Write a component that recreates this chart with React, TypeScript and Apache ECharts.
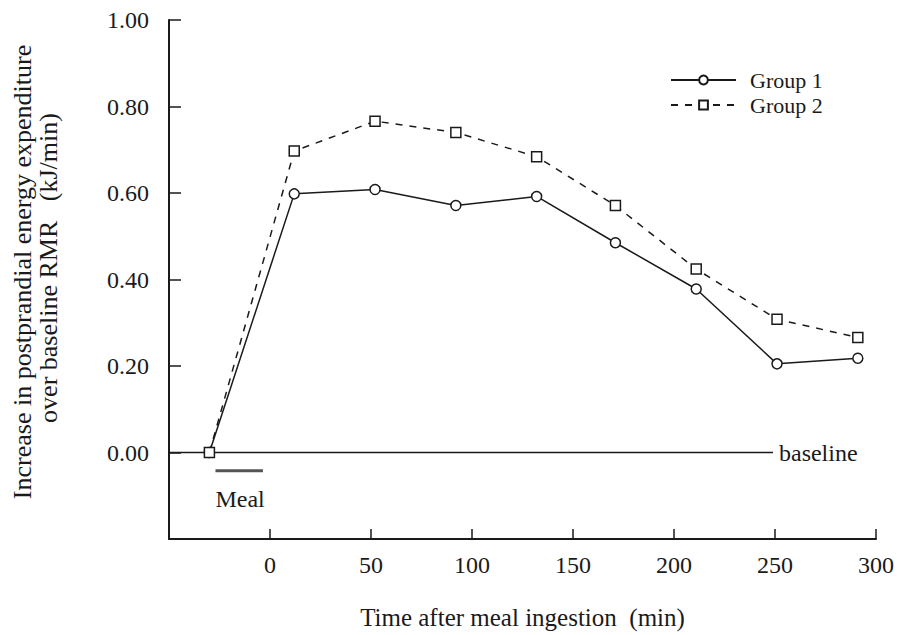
import React, { useEffect, useRef } from "react";
import * as echarts from "echarts";

const timesMin = [-30, 12, 52, 92, 132, 171, 211, 251, 291];
const group1 = [0, 0.598, 0.608, 0.571, 0.592, 0.485, 0.378, 0.205, 0.218];
const group2 = [0, 0.697, 0.766, 0.74, 0.684, 0.571, 0.424, 0.308, 0.266];
const xTicks = [0, 50, 100, 150, 200, 250, 300];
const yTicks = [0, 0.2, 0.4, 0.6, 0.8, 1.0];
const baselineX = [-50, 249];
const mealX = [-27, -3.5];
const mealY = -0.042;
const mealLabelPos = [-27, -0.08];

const FONT = "'Liberation Serif', 'Times New Roman', serif";
const INK = "#1a1a1a";

export default function App() {
  const ref = useRef<HTMLDivElement>(null);
  useEffect(() => {
    const chart = echarts.init(ref.current!, null, { renderer: "svg" });
    const pair = (xs: number[], ys: number[]) => xs.map((x, i) => [x, ys[i]]);
    const textBase = { fontFamily: FONT, color: INK };
    chart.setOption({
      animation: false,
      backgroundColor: "#ffffff",
      grid: { left: 169, right: 20, top: 20, bottom: 94, containLabel: false },
      xAxis: {
        type: "value",
        min: -50,
        max: 300,
        interval: 50,
        axisLine: { show: true, onZero: false, lineStyle: { color: INK, width: 2 } },
        axisTick: { show: true, inside: true, length: 10, customValues: xTicks, lineStyle: { color: INK, width: 1.5 } },
        axisLabel: { show: true, customValues: xTicks, margin: 14, fontSize: 24, ...textBase },
        splitLine: { show: false },
        name: "Time after meal ingestion  (min)",
        nameLocation: "middle",
        nameGap: 66,
        nameTextStyle: { fontSize: 25, ...textBase },
      },
      yAxis: {
        type: "value",
        min: -0.2,
        max: 1.0,
        interval: 0.2,
        axisLine: { show: true, onZero: false, lineStyle: { color: INK, width: 2 } },
        axisTick: { show: true, inside: true, length: 12, customValues: yTicks, lineStyle: { color: INK, width: 1.5 } },
        axisLabel: {
          show: true,
          customValues: yTicks,
          margin: 20,
          fontSize: 24,
          ...textBase,
          formatter: (v: number) => v.toFixed(2),
        },
        splitLine: { show: false },
      },
      legend: {
        show: true,
        orient: "vertical",
        left: 670,
        top: 69,
        padding: 0,
        itemWidth: 65,
        itemHeight: 11,
        itemGap: 3,
        data: ["Group 1", "Group 2"],
        textStyle: { fontSize: 22, padding: [0, 0, 0, 9], ...textBase },
      },
      series: [
        {
          name: "baseline",
          type: "line",
          data: pair(baselineX, [0, 0]),
          symbol: "none",
          silent: true,
          lineStyle: { color: INK, width: 1.5 },
          endLabel: { show: true, formatter: "baseline", distance: 6, fontSize: 24, ...textBase },
          emphasis: { disabled: true },
          z: 1,
        },
        {
          name: "meal",
          type: "line",
          data: pair(mealX, [mealY, mealY]),
          symbol: "none",
          silent: true,
          lineStyle: { color: "#555", width: 3 },
          emphasis: { disabled: true },
          z: 1,
        },
        {
          name: "Group 1",
          type: "line",
          data: pair(timesMin, group1),
          symbol: "circle",
          symbolSize: 10,
          lineStyle: { color: INK, width: 1.5, type: "solid" },
          itemStyle: { color: "#ffffff", borderColor: INK, borderWidth: 1.5 },
          emphasis: { disabled: true },
          z: 3,
        },
        {
          name: "Group 2",
          type: "line",
          data: pair(timesMin, group2),
          symbol: "rect",
          symbolSize: 10,
          lineStyle: { color: INK, width: 1.5, type: [7, 7] },
          itemStyle: { color: "#ffffff", borderColor: INK, borderWidth: 1.5 },
          emphasis: { disabled: true },
          z: 4,
        },
      ],
    });
    const p = chart.convertToPixel({ gridIndex: 0 }, mealLabelPos) as number[];
    chart.setOption({
      graphic: [
        {
          type: "text",
          x: p[0],
          y: p[1],
          style: { text: "Meal", fontFamily: FONT, fontSize: 24, fill: INK, align: "left", verticalAlign: "top" },
        },
        {
          type: "text",
          x: 22,
          y: 272,
          rotation: Math.PI / 2,
          style: {
            text: "Increase in postprandial energy expenditure",
            fontFamily: FONT,
            fontSize: 26,
            fill: INK,
            align: "center",
            verticalAlign: "middle",
          },
        },
        {
          type: "text",
          x: 48,
          y: 268,
          rotation: Math.PI / 2,
          style: {
            text: "over baseline RMR   (kJ/min)",
            fontFamily: FONT,
            fontSize: 26,
            fill: INK,
            align: "center",
            verticalAlign: "middle",
          },
        },
      ],
    });
    return () => chart.dispose();
  }, []);
  return (
    <div
      ref={ref}
      style={{ position: "absolute", left: 0, top: 0, width: 897, height: 635, background: "#fff" }}
    />
  );
}
